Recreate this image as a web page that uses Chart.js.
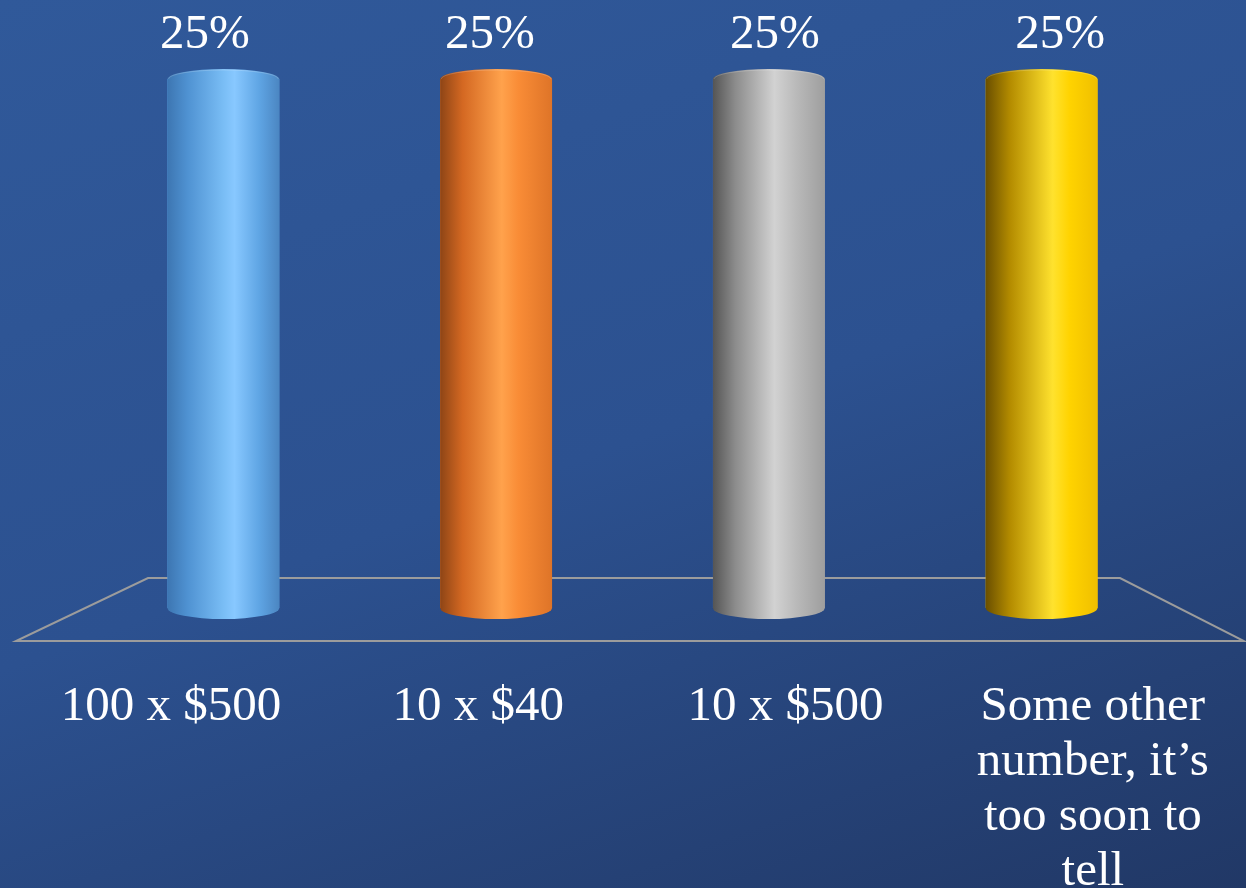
<!DOCTYPE html>
<html>
<head>
<meta charset="utf-8">
<script src="https://cdn.jsdelivr.net/npm/chart.js@4.4.1/dist/chart.umd.min.js"></script>
<style>
  html, body { margin: 0; padding: 0; overflow: hidden; }
  body {
    width: 1246px; height: 888px;
    background: linear-gradient(160deg, #30599a 0%, #2c5190 50%, #213866 100%);
  }
  #wrap { position: relative; width: 1246px; height: 888px; }
</style>
</head>
<body>
<div id="wrap"><canvas id="chart"></canvas></div>
<script>
const categories = ['100 x $500', '10 x $40', '10 x $500', 'Some other number, it\u2019s too soon to tell'];
const tickLabels = [['100 x $500'], ['10 x $40'], ['10 x $500'], ['Some other', 'number, it\u2019s', 'too soon to', 'tell']];
const percents = [25, 25, 25, 25];

// left -> right shading of each cylinder
const shades = [
  [[0, '#3d76b2'], [0.18, '#4f92d2'], [0.5, '#79bdf5'], [0.6, '#88c8ff'], [0.82, '#5fa5e4'], [1, '#4b86c2']],
  [[0, '#8e4516'], [0.2, '#d46822'], [0.55, '#ffa24c'], [0.7, '#f98c36'], [1, '#de7428']],
  [[0, '#555555'], [0.2, '#8c8c8c'], [0.55, '#d2d2d2'], [0.75, '#b9b9b9'], [1, '#9e9e9e']],
  [[0, '#6a4f00'], [0.22, '#b48c00'], [0.6, '#ffe22e'], [0.75, '#ffd300'], [1, '#efbf00']]
];

const floorPlugin = {
  id: 'floor',
  beforeDatasetsDraw(chart) {
    const a = chart.chartArea, ctx = chart.ctx;
    ctx.save();
    ctx.strokeStyle = '#9c9c9c';
    ctx.lineWidth = 2;
    ctx.beginPath();
    ctx.moveTo(a.left + 61, a.bottom - 30);
    ctx.lineTo(a.right - 58, a.bottom - 30);
    ctx.lineTo(a.right + 66, a.bottom + 33);
    ctx.lineTo(a.left - 71, a.bottom + 33);
    ctx.closePath();
    ctx.stroke();
    ctx.restore();
  }
};

const cylinderPlugin = {
  id: 'cylinders',
  afterDatasetsDraw(chart) {
    const ctx = chart.ctx;
    const a = chart.chartArea;
    const cx = (a.left + a.right) / 2;
    const meta = chart.getDatasetMeta(0);
    meta.data.forEach((bar, i) => {
      const l = bar.x - bar.width / 2, r = bar.x + bar.width / 2;
      const rx = bar.width / 2, ry = 10;
      const g = ctx.createLinearGradient(l, 0, r, 0);
      shades[i].forEach(s => g.addColorStop(s[0], s[1]));
      ctx.save();
      ctx.beginPath();
      ctx.moveTo(l, bar.base);
      ctx.lineTo(l, bar.y);
      ctx.ellipse(bar.x, bar.y, rx, ry, 0, Math.PI, 0);
      ctx.lineTo(r, bar.base);
      ctx.ellipse(bar.x, bar.base, rx, ry + 1, 0, 0, Math.PI);
      ctx.closePath();
      ctx.fillStyle = g;
      ctx.fill();
      // top rim
      ctx.beginPath();
      ctx.ellipse(bar.x, bar.y, rx - 1, ry - 1, 0, Math.PI, 0);
      ctx.strokeStyle = 'rgba(255,255,255,0.18)';
      ctx.lineWidth = 1;
      ctx.stroke();
      // value label (sits slightly in front, so spread out a little)
      ctx.fillStyle = '#ffffff';
      ctx.font = '49px "Liberation Serif"';
      ctx.textAlign = 'center';
      ctx.textBaseline = 'alphabetic';
      ctx.fillText(percents[i] + '%', cx + (bar.x - cx) * 1.045, bar.y - 31);
      ctx.restore();
    });
  }
};

new Chart(document.getElementById('chart'), {
  type: 'bar',
  data: {
    labels: categories,
    datasets: [{
      label: 'Votes',
      data: percents,
      backgroundColor: ['#5aa5e6', '#f07a28', '#a8a8a8', '#ffcc00'],
      borderWidth: 0,
      barPercentage: 0.41,
      categoryPercentage: 1
    }]
  },
  options: {
    responsive: true,
    maintainAspectRatio: false,
    animation: false,
    layout: { padding: { top: 79, left: 87, right: 68, bottom: 0 } },
    plugins: { legend: { display: false }, tooltip: { enabled: false } },
    scales: {
      x: { display: false },
      xl: {
        type: 'linear',
        position: 'bottom',
        offset: false,
        min: -0.273,
        max: 3.277,
        grid: { display: false, offset: false },
        border: { display: false },
        afterBuildTicks(axis) { axis.ticks = categories.map((c, i) => ({ value: i })); },
        afterFit(axis) { axis.height = 280; axis.paddingLeft = 0; axis.paddingRight = 0; },
        ticks: {
          autoSkip: false,
          maxRotation: 0,
          padding: 64,
          color: '#ffffff',
          font: { family: '"Liberation Serif"', size: 49, lineHeight: 1.12 },
          callback: (v) => tickLabels[v]
        }
      },
      y: { display: false, min: 0, max: 25 }
    }
  },
  plugins: [floorPlugin, cylinderPlugin]
});
</script>
</body>
</html>
